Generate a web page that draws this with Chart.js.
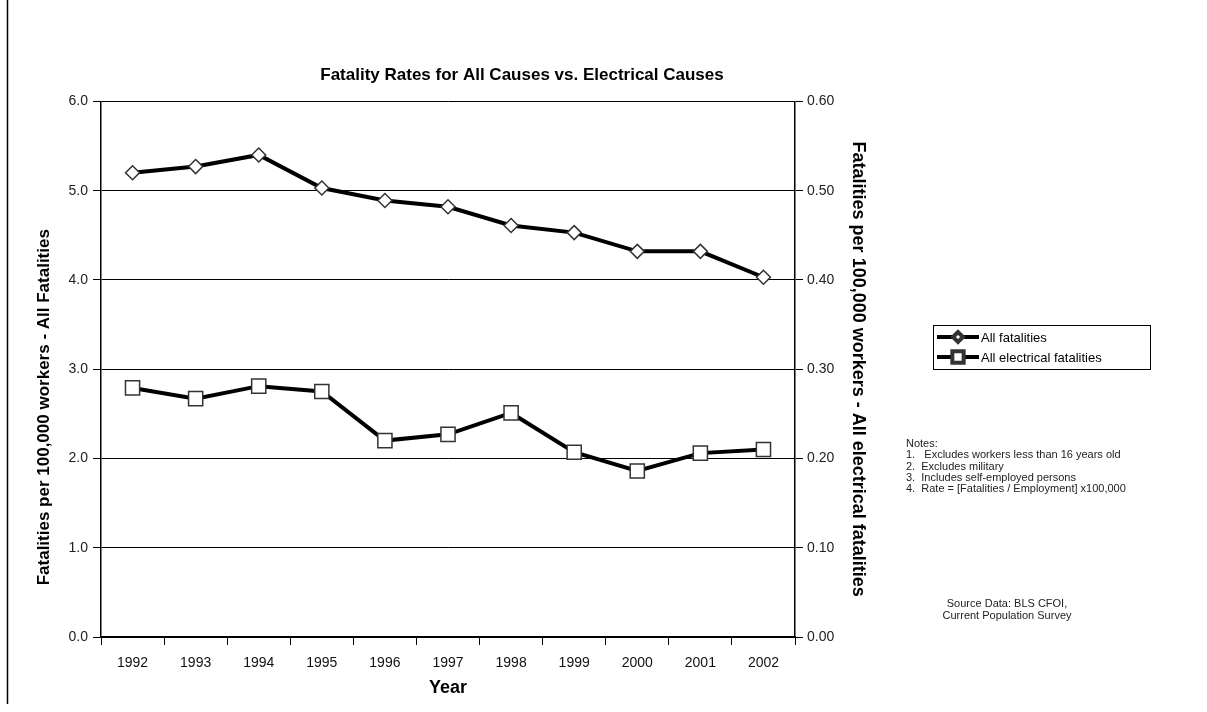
<!DOCTYPE html>
<html>
<head>
<meta charset="utf-8">
<script src="https://cdn.jsdelivr.net/npm/chart.js@4.4.0/dist/chart.umd.min.js"></script>
<style>
  html, body { margin: 0; padding: 0; background: #fff; }
</style>
</head>
<body>
<canvas id="myChart" width="1207" height="712"></canvas>
<script>
// data
var years = ["1992", "1993", "1994", "1995", "1996", "1997", "1998", "1999", "2000", "2001", "2002"];
var allFatalities = [5.20, 5.27, 5.40, 5.03, 4.89, 4.82, 4.61, 4.53, 4.32, 4.32, 4.03];
var electricalFatalities = [0.279, 0.267, 0.281, 0.275, 0.220, 0.227, 0.251, 0.207, 0.186, 0.206, 0.210];

var chartTitle = "Fatality Rates for All Causes vs. Electrical Causes";
var leftTitle = "Fatalities per 100,000 workers - All Fatalities";
var rightTitle = "Fatalities per 100,000 workers - All electrical fatalities";
var notes = [
    "Notes:",
    "1.   Excludes workers less than 16 years old",
    "2.  Excludes military",
    "3.  Includes self-employed persons",
    "4.  Rate = [Fatalities / Employment] x100,000"
];
var sourceLines = ["Source Data: BLS CFOI,", "Current Population Survey"];

var FONT = "'Liberation Sans', Arial, sans-serif";

// extra stuff drawn round the chart: frame line, left title, legend box, notes
var extras = {
    id: "extras",
    afterDraw: function (chart) {
        var ctx = chart.ctx;
        var area = chart.chartArea;
        ctx.save();

        ctx.strokeStyle = "#000";
        ctx.lineWidth = 1.5;
        ctx.beginPath();
        ctx.moveTo(7.5, 0);
        ctx.lineTo(7.5, 704);
        ctx.stroke();

        // left axis title
        ctx.save();
        ctx.translate(44, (area.top + area.bottom) / 2 + 38);
        ctx.rotate(-Math.PI / 2);
        ctx.fillStyle = "#000";
        ctx.font = "bold 17px " + FONT;
        ctx.textAlign = "center";
        ctx.textBaseline = "middle";
        ctx.fillText(leftTitle, 0, 0);
        ctx.restore();

        // legend
        var bx = 933, by = 325, bw = 217, bh = 44;
        ctx.lineWidth = 1;
        ctx.strokeStyle = "#000";
        ctx.strokeRect(bx + 0.5, by + 0.5, bw, bh);
        chart.data.datasets.forEach(function (ds, i) {
            var y = by + 12 + i * 20;
            ctx.strokeStyle = "#000";
            ctx.lineWidth = 4;
            ctx.beginPath();
            ctx.moveTo(bx + 4, y);
            ctx.lineTo(bx + 46, y);
            ctx.stroke();
            ctx.fillStyle = "#fff";
            ctx.strokeStyle = "#333";
            Chart.helpers.drawPoint(ctx, {
                pointStyle: ds.pointStyle,
                radius: i == 0 ? 5 : 8,
                borderWidth: 1.2,
                rotation: 0
            }, bx + 25, y);
            ctx.fillStyle = "#000";
            ctx.font = "13px " + FONT;
            ctx.textAlign = "left";
            ctx.textBaseline = "middle";
            ctx.fillText(ds.label, bx + 48, y + 1);
        });

        // notes
        ctx.fillStyle = "#222";
        ctx.font = "11px " + FONT;
        ctx.textAlign = "left";
        ctx.textBaseline = "middle";
        for (var n = 0; n < notes.length; n++) {
            ctx.fillText(notes[n], 906, 444 + n * 11.3);
        }

        ctx.textAlign = "center";
        for (var s = 0; s < sourceLines.length; s++) {
            ctx.fillText(sourceLines[s], 1007, 604 + s * 12);
        }
        ctx.restore();
    }
};

var ctx = document.getElementById("myChart").getContext("2d");

var myNewChart = new Chart(ctx, {
    type: "line",
    data: {
        labels: years,
        datasets: [
            {
                label: "All fatalities",
                data: allFatalities,
                yAxisID: "y",
                borderColor: "#000",
                borderWidth: 4,
                pointStyle: "rectRot",
                pointRadius: 7,
                pointBackgroundColor: "#fff",
                pointBorderColor: "#333",
                pointBorderWidth: 1.5,
                tension: 0
            },
            {
                label: "All electrical fatalities",
                data: electricalFatalities,
                yAxisID: "y1",
                borderColor: "#000",
                borderWidth: 4,
                pointStyle: "rect",
                pointRadius: 10,
                pointBackgroundColor: "#fff",
                pointBorderColor: "#333",
                pointBorderWidth: 1.5,
                tension: 0
            }
        ]
    },
    options: {
        responsive: false,
        animation: false,
        layout: { padding: { left: 0, right: 163, top: 0, bottom: 0 } },
        plugins: {
            legend: { display: false },
            tooltip: { enabled: false },
            title: {
                display: true,
                text: chartTitle,
                color: "#000",
                font: { family: FONT, size: 17, weight: "bold" },
                padding: { top: 65, bottom: 16 }
            }
        },
        scales: {
            x: {
                type: "category",
                offset: true,
                grid: { display: true, drawOnChartArea: false, offset: true, color: "#000", tickLength: 8 },
                border: { color: "#000", width: 1.5 },
                ticks: { color: "#111", font: { family: FONT, size: 14 }, padding: 10, maxRotation: 0 },
                title: {
                    display: true, text: "Year", color: "#000",
                    font: { family: FONT, size: 18, weight: "bold" },
                    padding: { top: 4, bottom: 13 }
                },
                afterFit: function (scale) { scale.height = 75; }
            },
            y: {
                position: "left",
                min: 0,
                max: 6,
                ticks: {
                    stepSize: 1, color: "#222", padding: 5,
                    font: { family: FONT, size: 14 },
                    callback: function (v) { return v.toFixed(1); }
                },
                grid: { color: "#000", lineWidth: 1, tickLength: 8 },
                border: { color: "#000", width: 1.5 },
                afterFit: function (scale) { scale.width = 101; }
            },
            y1: {
                position: "right",
                min: 0,
                max: 0.6,
                ticks: {
                    stepSize: 0.1, color: "#222", padding: 4,
                    font: { family: FONT, size: 14 },
                    callback: function (v) { return v.toFixed(2); }
                },
                grid: { drawOnChartArea: false, color: "#000", tickLength: 8 },
                border: { color: "#000", width: 1.5 },
                title: {
                    display: true, text: rightTitle, color: "#000",
                    font: { family: FONT, size: 18, weight: "bold" },
                    padding: { top: 175, bottom: 0 }
                },
                afterFit: function (scale) { scale.width = 249; }
            }
        }
    },
    plugins: [extras]
});
</script>
</body>
</html>
